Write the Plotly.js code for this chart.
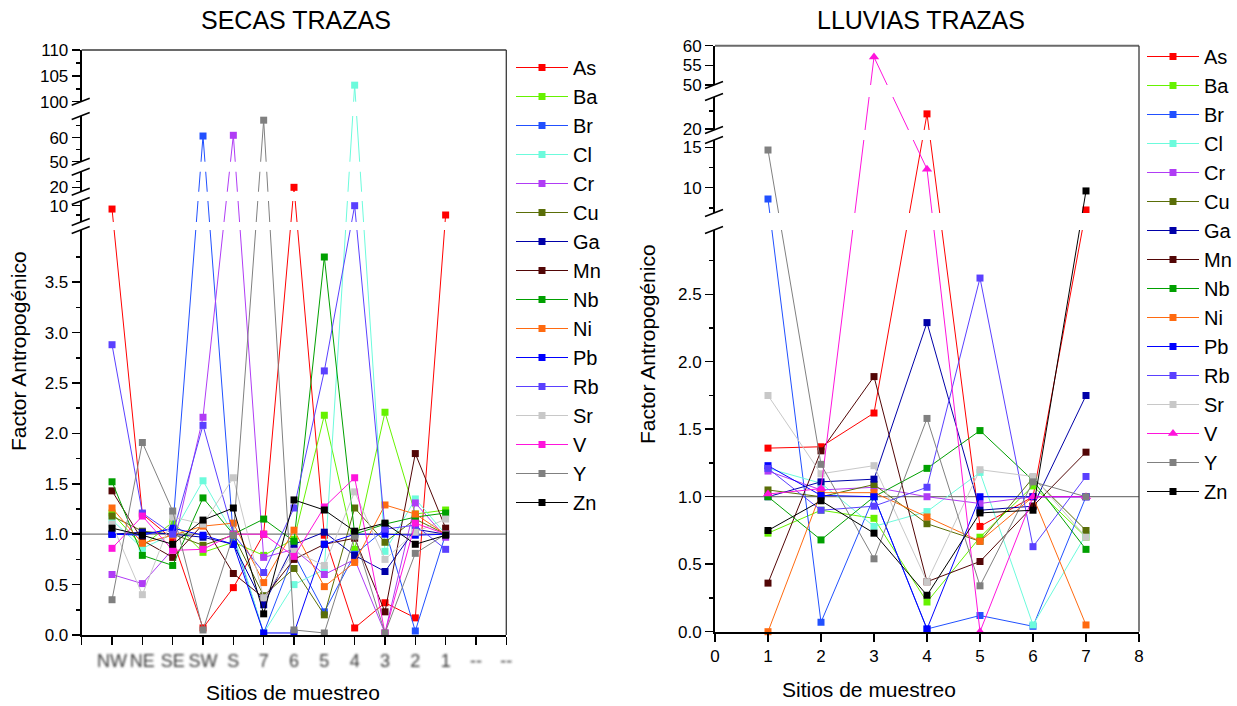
<!DOCTYPE html>
<html>
<head>
<meta charset="utf-8">
<script src="https://cdn.plot.ly/plotly-3.0.1.min.js"></script>
<style>html,body{margin:0;padding:0;background:#fff}</style>
</head>
<body>
<svg width="0" height="0" style="position:absolute"><defs>
<filter id="soft" x="-30%" y="-30%" width="160%" height="160%"><feGaussianBlur stdDeviation="0.8"/></filter>
</defs></svg>
<div id="chart" style="width:1237px;height:706px"></div>
<script>
const W = 1237, H = 706;

// ---- data ----
const elements = ['As','Ba','Br','Cl','Cr','Cu','Ga','Mn','Nb','Ni','Pb','Rb','Sr','V','Y','Zn'];

// dry season (secas) sampling sites
const secasSites = ['NW','NE','SE','SW','S','7','6','5','4','3','2','1'];
const secasBlankTicks = ['--','--'];
const secasAs = [9.1, 1.2, 0.95, 0.07, 0.47, 1.0, 20, 0.99, 0.07, 0.32, 0.17, 7.5];
const secasBa = [1.21, 0.88, 1.12, 0.82, 0.92, 0.79, 0.95, 2.18, 0.85, 2.21, 1.2, 1.24];
const secasBr = [1.0, 1.0, 1.05, 60.7, 0.97, 0.02, 0.8, 0.23, 0.8, 1.05, 0.04, 1.0];
const secasCl = [1.14, 0.86, 1.0, 1.53, 1.0, 0.02, 0.5, 0.65, 103.2, 0.83, 1.35, 1.0];
const secasCr = [0.60, 0.51, 0.85, 2.16, 61.0, 0.77, 0.85, 0.60, 0.75, 0.02, 1.31, 0.97];
const secasCu = [1.18, 1.03, 1.0, 0.89, 0.99, 0.39, 0.66, 0.20, 1.26, 0.92, 1.15, 1.0];
const secasGa = [1.0, 1.02, 1.0, 0.97, 0.90, 0.30, 0.90, 1.02, 0.79, 0.63, 1.05, 1.0];
const secasMn = [1.43, 0.94, 0.77, 1.10, 0.61, 0.37, 0.75, 0.90, 0.96, 0.23, 1.80, 1.06];
const secasNb = [1.52, 0.79, 0.69, 1.36, 1.0, 1.15, 0.93, 3.75, 1.0, 1.10, 1.17, 1.21];
const secasNi = [1.26, 0.91, 0.99, 1.08, 1.11, 0.52, 1.04, 0.48, 0.72, 1.29, 1.20, 1.0];
const secasPb = [1.0, 0.99, 1.06, 0.99, 0.90, 0.02, 0.02, 0.90, 1.0, 1.0, 0.99, 1.0];
const secasRb = [2.88, 1.21, 1.0, 2.08, 1.0, 0.62, 1.26, 2.62, 10.0, 1.05, 1.09, 0.85];
const secasSr = [1.10, 0.40, 1.17, 1.10, 1.56, 0.37, 0.83, 0.69, 1.42, 0.75, 1.02, 1.15];
const secasV  = [0.86, 1.18, 0.84, 0.85, 1.0, 1.0, 0.78, 1.27, 1.56, 0.02, 1.11, 1.0];
const secasY  = [0.35, 1.91, 1.23, 0.05, 0.99, 67.3, 0.05, 0.02, 0.98, 0.02, 0.81, 1.0];
const secasZn = [1.06, 0.99, 0.90, 1.14, 1.26, 0.21, 1.34, 1.24, 1.03, 1.11, 0.90, 0.99];

// rainy season (lluvias) sampling sites
const lluviasSites = [1, 2, 3, 4, 5, 6, 7];
const lluviasAs = [1.36, 1.37, 1.62, 24.2, 0.78, 1.0, 7.24];
const lluviasBa = [0.73, 0.90, 0.84, 0.22, 0.70, 1.08, 0.70];
const lluviasBr = [8.6, 0.07, 1.0, 0.02, 0.12, 0.04, 1.0];
const lluviasCl = [1.21, 1.10, 0.78, 0.89, 1.18, 0.05, 0.72];
const lluviasCr = [1.19, 1.05, 1.07, 1.0, 0.95, 1.0, 1.0];
const lluviasCu = [1.05, 1.0, 1.09, 0.80, 0.67, 1.14, 0.75];
const lluviasGa = [1.0, 1.11, 1.13, 2.29, 0.90, 0.93, 1.75];
const lluviasMn = [0.36, 1.34, 1.89, 0.37, 0.52, 0.93, 1.33];
const lluviasNb = [1.0, 0.68, 1.0, 1.21, 1.49, 1.12, 0.61];
const lluviasNi = [0.0, 1.03, 1.03, 0.85, 0.67, 1.0, 0.05];
const lluviasPb = [1.23, 1.01, 1.0, 0.02, 1.0, 1.0, 1.0];
const lluviasRb = [1.21, 0.90, 0.93, 1.07, 2.62, 0.63, 1.15];
const lluviasSr = [1.75, 1.17, 1.23, 0.37, 1.20, 1.15, 0.70];
const lluviasV  = [1.02, 1.06, 57.1, 12.3, 0.0, 1.0, 1.0];
const lluviasY  = [14.67, 1.24, 0.54, 1.58, 0.34, 1.11, 1.0];
const lluviasZn = [0.75, 0.97, 0.73, 0.27, 0.88, 0.90, 9.6];

const secasSeries = {As: secasAs, Ba: secasBa, Br: secasBr, Cl: secasCl, Cr: secasCr, Cu: secasCu,
  Ga: secasGa, Mn: secasMn, Nb: secasNb, Ni: secasNi, Pb: secasPb, Rb: secasRb, Sr: secasSr,
  V: secasV, Y: secasY, Zn: secasZn};
const lluviasSeries = {As: lluviasAs, Ba: lluviasBa, Br: lluviasBr, Cl: lluviasCl, Cr: lluviasCr, Cu: lluviasCu,
  Ga: lluviasGa, Mn: lluviasMn, Nb: lluviasNb, Ni: lluviasNi, Pb: lluviasPb, Rb: lluviasRb, Sr: lluviasSr,
  V: lluviasV, Y: lluviasY, Zn: lluviasZn};

const colors = {
  As: '#ff0000', Ba: '#66f200', Br: '#2150ff', Cl: '#6cfbdc', Cr: '#b03cf5', Cu: '#5a6e08',
  Ga: '#0000a8', Mn: '#520606', Nb: '#00a000', Ni: '#ff6a10', Pb: '#0000ff', Rb: '#5a40ff',
  Sr: '#c8c8c8', V: '#ff14dc', Y: '#808080', Zn: '#000000'
};

// ---- broken y scales: each piece maps [lo, hi] onto a band (px above the plot bottom) ----
const secasPieces = [
  {lo: 0,     hi: 4.018, from: 0,     to: 405},
  {lo: 5.62,  hi: 11.26, from: 413,   to: 434},
  {lo: 16.1,  hi: 33.9,  from: 443.3, to: 463.3},
  {lo: 50,    hi: 69.04, from: 473.3, to: 519},
  {lo: 100,   hi: 110,   from: 533.3, to: 585}
];
const lluviasPieces = [
  {lo: 0,     hi: 2.976, from: 0,     to: 401.7},
  {lo: 6.865, hi: 15.91, from: 418.7, to: 491.7},
  {lo: 19.72, hi: 28.89, from: 501.7, to: 534.7},
  {lo: 50,    hi: 60,    from: 546.7, to: 586}
];

function brokenScale(pieces) {
  return function (v) {
    let p = pieces.find(q => v >= q.lo && v <= q.hi);
    if (!p) {
      p = pieces.reduce((best, q) => {
        const d = Math.min(Math.abs(v - q.lo), Math.abs(v - q.hi));
        return d < best.d ? {d: d, q: q} : best;
      }, {d: Infinity, q: pieces[0]}).q;
    }
    return p.from + (v - p.lo) / (p.hi - p.lo) * (p.to - p.from);
  };
}
const secasScale = brokenScale(secasPieces);
const lluviasScale = brokenScale(lluviasPieces);

const secasMajor = [0, 0.5, 1, 1.5, 2, 2.5, 3, 3.5, 10, 20, 50, 60, 100, 105, 110];
const secasMinor = [0.25, 0.75, 1.25, 1.75, 2.25, 2.75, 3.25, 3.75, 7.5, 25, 55, 65, 102.5, 107.5];
const lluviasMajor = [0, 0.5, 1, 1.5, 2, 2.5, 10, 15, 20, 50, 55, 60];
const lluviasMinor = [0.25, 0.75, 1.25, 1.75, 2.25, 2.75, 7.5, 12.5, 25];
const tickLabel = v => (v < 5 ? v.toFixed(1) : String(v));

// ---- panel geometry (px in the 1237x706 page) ----
const leftPanel  = {x0: 81.7, x1: 506.3, yBottom: 635,   yTop: 50};
const rightPanel = {x0: 715,  x1: 1139,  yBottom: 631.7, yTop: 45.7};

const FONT = 'Liberation Sans, Arial, Helvetica, sans-serif';

// ---- traces ----
const traces = [];
const secasX = secasSites.map((s, i) => i + 1);
elements.forEach(el => {
  traces.push({
    type: 'scatter', mode: 'lines+markers', name: el,
    x: secasX, y: secasSeries[el].map(secasScale),
    xaxis: 'x', yaxis: 'y', legend: 'legend', cliponaxis: false,
    line: {color: colors[el], width: 1},
    marker: {color: colors[el], symbol: 'square', size: 7}
  });
});
elements.forEach(el => {
  traces.push({
    type: 'scatter', mode: 'lines+markers', name: el,
    x: lluviasSites, y: lluviasSeries[el].map(lluviasScale),
    xaxis: 'x2', yaxis: 'y2', legend: 'legend2', cliponaxis: false,
    line: {color: colors[el], width: 1},
    marker: {color: colors[el], symbol: el === 'V' ? 'triangle-up' : 'square', size: el === 'V' ? 9 : 7}
  });
});

// ---- shapes: gaps at the breaks, break marks, frame, reference line at 1 ----
function panelShapes(panel, pieces, scale, xref, yref, xMax) {
  const out = [];
  out.push({type: 'line', layer: 'below', xref: xref, yref: yref, x0: 0, x1: xMax,
    y0: scale(1), y1: scale(1), line: {color: '#7a7a7a', width: 1.3}});
  for (let i = 0; i < pieces.length - 1; i++) {
    out.push({type: 'rect', layer: 'above', xref: 'paper', yref: yref,
      x0: (panel.x0 - 2) / W, x1: (panel.x1 - 1) / W,
      y0: pieces[i].to, y1: pieces[i + 1].from,
      fillcolor: '#ffffff', line: {width: 0}});
  }
  out.push({type: 'line', layer: 'above', xref: 'paper', yref: 'paper',
    x0: panel.x0 / W, x1: panel.x1 / W, y0: 1 - panel.yTop / H, y1: 1 - panel.yTop / H,
    line: {color: '#6a6a6a', width: 2}});
  out.push({type: 'line', layer: 'above', xref: 'paper', yref: 'paper',
    x0: panel.x1 / W, x1: panel.x1 / W, y0: 1 - panel.yBottom / H, y1: 1 - panel.yTop / H,
    line: {color: '#3a3a3a', width: 1.3}});
  for (let i = 0; i < pieces.length - 1; i++) {
    [pieces[i].to, pieces[i + 1].from].forEach(yy => {
      out.push({type: 'line', layer: 'above', xref: 'paper', yref: yref,
        x0: (panel.x0 - 10) / W, x1: (panel.x0 + 8) / W, y0: yy - 3.5, y1: yy + 3.5,
        line: {color: '#000', width: 1.5}});
    });
  }
  return out;
}
const shapes = [].concat(
  panelShapes(leftPanel, secasPieces, secasScale, 'x', 'y', secasSites.length + secasBlankTicks.length),
  panelShapes(rightPanel, lluviasPieces, lluviasScale, 'x2', 'y2', 8)
);

function yAxis(panel, pieces, scale, major, minor, anchor) {
  return {
    anchor: anchor,
    domain: [1 - panel.yBottom / H, 1 - panel.yTop / H],
    range: [0, pieces[pieces.length - 1].to],
    showgrid: false, zeroline: false,
    showline: true, linecolor: '#000', linewidth: 2,
    ticks: 'outside', ticklen: 8, tickwidth: 1.5, tickcolor: '#000',
    tickmode: 'array', tickvals: major.map(scale), ticktext: major.map(tickLabel),
    tickfont: {family: FONT, size: 17, color: '#000'},
    minor: {tickmode: 'array', tickvals: minor.map(scale), ticks: 'outside', ticklen: 4,
      tickwidth: 1.5, tickcolor: '#000', showgrid: false},
    fixedrange: true
  };
}

const secasTickText = [''].concat(secasSites, secasBlankTicks);

function label(text, px, py, size, angle) {
  return {text: text, x: px / W, y: 1 - py / H, xref: 'paper', yref: 'paper',
    xanchor: 'center', yanchor: 'middle', textangle: angle || 0, showarrow: false,
    font: {family: FONT, size: size, color: '#000'}};
}

const legendBase = {xanchor: 'left', yanchor: 'top', bgcolor: 'rgba(0,0,0,0)', borderwidth: 0,
  tracegroupgap: 0, itemwidth: 52, font: {family: FONT, size: 20, color: '#000'}};

const layout = {
  width: W, height: H, autosize: false,
  margin: {l: 0, r: 0, t: 0, b: 0},
  paper_bgcolor: '#fff', plot_bgcolor: '#fff',
  showlegend: true,
  xaxis: {
    domain: [leftPanel.x0 / W, leftPanel.x1 / W], range: [0, secasTickText.length - 1],
    anchor: 'y', showgrid: false, zeroline: false,
    showline: true, linecolor: '#000', linewidth: 2,
    ticks: 'outside', ticklen: 8, tickwidth: 1.5, tickcolor: '#000',
    tickmode: 'array', tickvals: secasTickText.map((t, i) => i), ticktext: secasTickText,
    tickfont: {family: FONT, size: 18, color: '#3a3a3a'}, fixedrange: true
  },
  yaxis: yAxis(leftPanel, secasPieces, secasScale, secasMajor, secasMinor, 'x'),
  xaxis2: {
    domain: [rightPanel.x0 / W, rightPanel.x1 / W], range: [0, 8],
    anchor: 'y2', showgrid: false, zeroline: false,
    showline: true, linecolor: '#000', linewidth: 2,
    ticks: 'outside', ticklen: 8, tickwidth: 1.5, tickcolor: '#000',
    tickmode: 'linear', tick0: 0, dtick: 1,
    tickfont: {family: FONT, size: 17, color: '#000'}, fixedrange: true
  },
  yaxis2: yAxis(rightPanel, lluviasPieces, lluviasScale, lluviasMajor, lluviasMinor, 'x2'),
  legend: Object.assign({x: 511 / W, y: 1 - 48 / H}, legendBase),
  legend2: Object.assign({x: 1142 / W, y: 1 - 37 / H}, legendBase),
  shapes: shapes,
  annotations: [
    label('SECAS TRAZAS', 296, 20, 25),
    label('LLUVIAS TRAZAS', 921, 20, 25),
    label('Factor Antropogénico', 18, 351, 21, -90),
    label('Factor Antropogénico', 648, 344, 21, -90),
    label('Sitios de muestreo', 293, 692, 21),
    label('Sitios de muestreo', 869, 689, 21)
  ]
};

const gd = document.getElementById('chart');
function softenSiteLabels() {
  gd.querySelectorAll('g.xaxislayer-above .xtick text').forEach(t => {
    const sub = t.closest('.subplot');
    if (sub && sub.classList.contains('xy')) t.setAttribute('filter', 'url(#soft)');
  });
}
Plotly.newPlot(gd, traces, layout, {staticPlot: true, displayModeBar: false}).then(() => {
  softenSiteLabels();
  gd.on('plotly_afterplot', softenSiteLabels);
});
</script>
</body>
</html>
